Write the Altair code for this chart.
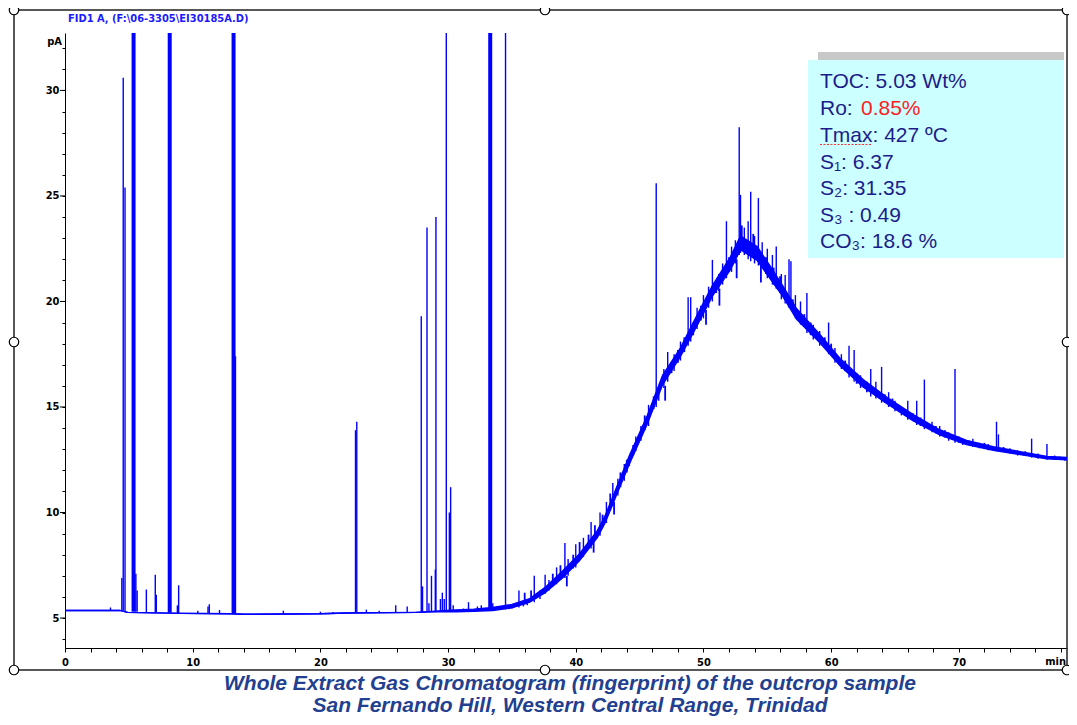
import altair as alt
import pandas as pd

# ---------------- data ----------------
# baseline + unresolved hump (lower / upper edge of the noisy band), pA vs min
trace_t = [0.0, 4.3, 4.9, 9.2, 13.0, 14.0, 20.0, 22.0, 27.5, 29.3, 30.6, 32.0, 33.5, 35.0,
           36.4, 37.6, 39.0, 40.3, 41.7, 42.3, 42.9, 44.2, 45.6, 46.8, 48.2, 49.5, 50.7,
           52.1, 52.9, 54.2, 55.2, 56.2, 57.3, 59.1, 60.7, 62.5, 64.4, 66.4, 68.5, 70.6,
           72.7, 74.8, 76.9, 79.1]
trace_lo = [5.36, 5.36, 5.27, 5.22, 5.20, 5.18, 5.20, 5.24, 5.27, 5.30, 5.30, 5.32, 5.36, 5.48,
            5.75, 6.2, 6.92, 7.72, 8.82, 9.52, 10.4, 12.3, 14.2, 16.05, 17.4, 18.85, 20.25,
            21.5, 22.45, 21.95, 21.1, 20.25, 19.15, 18.05, 16.95, 15.95, 15.15, 14.35, 13.68, 13.22,
            12.95, 12.74, 12.54, 12.48]
trace_hi = [5.36, 5.36, 5.27, 5.22, 5.20, 5.18, 5.20, 5.24, 5.27, 5.34, 5.38, 5.42, 5.50, 5.64,
            5.92, 6.45, 7.25, 8.05, 9.15, 9.85, 10.75, 12.7, 14.6, 16.5, 17.8, 19.35, 20.75,
            22.1, 23.1, 22.6, 21.7, 20.75, 19.65, 18.45, 17.3, 16.3, 15.45, 14.65, 13.92, 13.42,
            13.12, 12.88, 12.66, 12.58]

# resolved peaks: retention time, foot level, apex (pA)
peak_t = [3.56, 4.45, 4.56, 4.70, 5.55, 5.65, 6.37, 7.07, 7.15, 8.8, 8.9, 10.4, 11.2, 11.3,
          12.1, 13.35, 17.1, 20.0, 21.0, 22.75, 22.85, 23.6, 24.6, 25.9, 26.8, 27.9, 28.0,
          28.35, 28.5, 28.7, 29.0, 29.05, 29.4, 29.55, 29.7, 29.86, 30.1, 30.2, 30.4, 31.2,
          31.6, 32.3, 32.6, 33.5, 34.1, 34.5, 34.8, 35.0, 35.55, 35.9, 36.2, 36.75, 37.2,
          37.6, 37.9,
          38.5, 39.15, 39.4, 40.0, 40.6, 41.2, 41.9, 42.4, 42.9, 43.3, 43.8, 44.2, 44.7,
          45.1, 45.7, 46.3, 46.5, 46.9, 47.2, 47.7, 48.2, 48.8, 49.0, 49.5, 50.0, 50.4,
          50.7, 51.2, 51.5, 51.8, 52.2, 52.5, 52.8, 52.9, 53.2, 53.5, 53.7, 54.0, 54.3,
          54.6, 55.0, 55.4, 55.7, 56.1, 56.4, 56.7, 56.85, 57.2, 57.6, 58.1, 58.6, 59.1,
          59.8, 60.3, 60.8, 61.4, 61.8, 62.3, 63.1, 63.5, 63.95, 64.5, 65.0, 65.5, 66.0,
          66.7, 67.3, 67.9, 68.5, 69.2, 69.7, 70.3, 71.1, 71.6, 72.3, 72.95, 73.1, 74.0,
          74.6, 75.7, 76.2, 76.9, 77.5, 78.3]
peak_base = [5.36, 5.36, 5.36, 5.30, 5.30, 5.30, 5.27, 5.27, 5.27, 5.22, 5.22, 5.22, 5.22, 5.22,
             5.20, 5.20, 5.18, 5.20, 5.20, 5.24, 5.24, 5.25, 5.25, 5.26, 5.27, 5.27, 5.27,
             5.28, 5.28, 5.30, 5.30, 5.30, 5.35, 5.35, 5.35, 5.35, 5.35, 5.35, 5.30, 5.30,
             5.32, 5.32, 5.35, 5.38, 5.40, 5.40, 5.42, 5.45, 5.50, 5.55, 5.60, 5.75, 5.90,
             6.15, 6.30,
             6.6, 6.9, 7.0, 7.4, 7.9, 8.3, 8.9, 9.5, 10.3, 10.8, 11.5, 12.2, 12.9,
             13.4, 14.1, 15.0, 15.3, 15.9, 16.2, 16.7, 17.2, 17.9, 18.1, 18.7, 19.2, 19.7,
             20.0, 20.5, 20.8, 21.1, 21.4, 21.8, 22.2, 22.3, 22.2, 22.0, 21.9, 21.8, 21.7,
             21.6, 21.1, 20.8, 20.6, 20.1, 19.9, 19.7, 19.6, 19.2, 18.9, 18.5, 18.2, 17.9,
             17.5, 17.1, 16.8, 16.4, 16.2, 15.9, 15.5, 15.4, 15.2, 15.0, 14.8, 14.6, 14.4,
             14.15, 13.95, 13.8, 13.6, 13.4, 13.3, 13.2, 13.1, 13.05, 12.95, 12.9, 12.9, 12.8,
             12.7, 12.6, 12.55, 12.5, 12.5, 12.45]
peak_top = [5.5, 6.9, 30.6, 25.4, 7.1, 6.3, 6.35, 7.05, 6.1, 5.6, 6.55, 5.35, 5.55, 5.65,
            5.38, 17.4, 5.35, 5.3, 5.28, 13.9, 14.3, 5.4, 5.35, 5.6, 5.55, 19.3, 6.5,
            23.5, 5.7, 7.0, 7.3, 24.0, 5.9, 6.2, 5.9, 40.0, 10.0, 11.2, 5.6, 5.45,
            5.75, 5.55, 5.6, 5.7, 5.55, 40.0, 5.6, 5.65, 6.3, 5.75, 5.9, 7.0, 6.3,
            7.05, 6.8,
            7.4, 8.55, 7.8, 8.5, 8.8, 9.55, 10.0, 10.5, 11.4, 11.6, 12.3, 12.6, 13.6,
            14.1, 15.1, 25.6, 15.96, 16.8, 17.6, 17.5, 18.1, 20.2, 20.2, 19.7, 20.3, 20.7,
            21.97, 21.3, 21.8, 23.8, 22.6, 22.9, 28.25, 25.05, 23.5, 23.8, 25.2, 23.1, 24.9,
            22.8, 22.5, 22.2, 22.6, 21.3, 21.25, 22.0, 21.9, 20.3, 20.0, 20.4, 18.9, 18.6,
            19.0, 17.8, 17.5, 17.9, 17.7, 16.5, 16.8, 16.2, 16.9, 15.7, 15.3, 15.0, 15.3,
            15.3, 16.3, 14.3, 14.1, 13.8, 16.8, 13.5, 13.5, 13.3, 13.25, 14.3, 13.7, 13.05,
            12.95, 13.5, 12.8, 13.25, 12.7, 12.6]

# short noise excursions on the hump (start level, end level; end < start = dip)
hair_t = [36.0, 36.5, 38.2, 38.8, 39.3, 39.8, 40.3, 41.0, 41.4, 41.5, 42.1, 42.7, 43.0,
          43.5, 44.0, 44.5, 45.4, 46.1, 47.0, 47.5, 48.0, 48.5, 49.2, 49.8, 50.2, 51.0,
          51.25, 52.0, 52.6, 53.0, 53.9, 54.5, 54.9, 55.5, 56.0, 57.0, 57.9, 58.4, 59.5,
          60.0, 61.1, 62.0, 62.8, 64.2, 64.8, 65.8, 66.4, 67.0, 68.2, 68.9, 70.0, 70.8,
          72.0, 73.5, 75.2, 77.9]
hair_from = [5.65, 5.8, 6.5, 6.8, 7.0, 7.35, 7.8, 8.3, 8.7, 8.7, 9.3, 10.1, 10.5,
             11.2, 11.9, 12.7, 13.9, 14.9, 16.0, 16.6, 17.1, 17.6, 18.4, 19.1, 19.6, 20.4,
             20.6, 21.4, 22.0, 22.4, 22.1, 21.8, 21.3, 20.8, 20.4, 19.5, 18.8, 18.4, 17.8,
             17.5, 16.7, 16.1, 15.7, 15.2, 15.0, 14.6, 14.35, 14.1, 13.75, 13.55, 13.3, 13.2,
             13.05, 12.9, 12.7, 12.5]
hair_to = [6.2, 6.3, 7.1, 7.5, 6.5, 8.0, 8.6, 8.95, 8.1, 9.4, 9.9, 10.9, 9.9,
           11.9, 12.5, 13.2, 14.6, 15.5, 15.3, 17.1, 17.7, 18.3, 19.0, 19.8, 18.9, 21.0,
           19.8, 22.1, 21.1, 23.6, 23.2, 20.9, 22.1, 21.6, 21.2, 20.1, 19.4, 19.0, 18.3,
           18.0, 17.2, 16.6, 16.2, 15.6, 15.4, 14.9, 14.7, 14.5, 14.1, 13.9, 13.6, 13.4,
           13.3, 13.1, 12.9, 12.65]

# major (broad, off-scale) peaks
big_t = [5.37, 8.2, 13.2, 33.3]
big_base = [5.30, 5.25, 5.20, 5.40]
big_top = [40.0, 40.0, 40.0, 40.0]

x_tick_values = list(range(0, 79, 2))
y_tick_values = list(range(4, 33))
y_major_values = [5, 10, 15, 20, 25, 30]

info_lines = ["TOC: 5.03 Wt%", "Ro: ", "Tmax: 427 ºC", "S\u2081: 6.37", "S\u2082: 31.35",
              "S\u2083 : 0.49", "CO\u2083: 18.6 %"]
ro_value = "0.85%"
header = r"FID1 A, (F:\06-3305\EI30185A.D)"
caption1 = "Whole Extract Gas Chromatogram (fingerprint) of  the outcrop sample"
caption2 = "San Fernando Hill, Western Central Range, Trinidad"

# ---------------- chart ----------------
W, H = 1002, 615
BLUE = "#0000ff"
NARROW = "Liberation Sans Narrow, DejaVu Sans Condensed, Arial Narrow, sans-serif"
SANS = "Liberation Sans, Arial, sans-serif"

xs = alt.Scale(domain=[0, 78.47], nice=False, zero=False)
ys = alt.Scale(domain=[3.58, 32.72], nice=False, zero=False)

xaxis = alt.Axis(values=x_tick_values, labelExpr="datum.value % 10 == 0 ? datum.label : ''",
                 tickSize=4, labelPadding=4, title=None, grid=False, labelOverlap=False,
                 labelFlush=False, domainColor="black", tickColor="black", labelColor="black",
                 labelFont=NARROW, labelFontSize=11, labelFontWeight="bold")
yaxis = alt.Axis(values=y_tick_values, labelExpr="datum.value % 5 == 0 ? datum.label : ''",
                 tickSize=3, labelPadding=3, title=None, grid=False, labelOverlap=False,
                 domainColor="black", tickColor="black", labelColor="black",
                 labelFont=NARROW, labelFontSize=11, labelFontWeight="bold")


def X(f):
    return alt.X(f, scale=xs, axis=xaxis)


def Y(f):
    return alt.Y(f, scale=ys, axis=yaxis)


trace_df = pd.DataFrame({"t": trace_t, "lo": trace_lo, "hi": trace_hi})
peak_df = pd.DataFrame({"t": peak_t, "base": peak_base, "top": peak_top})
hair_df = pd.DataFrame({"t": hair_t, "base": hair_from, "top": hair_to})
big_df = pd.DataFrame({"t": big_t, "base": big_base, "top": big_top})
major_df = pd.DataFrame({"v": y_major_values})
one = pd.DataFrame({"k": [0]})

band = alt.Chart(trace_df).mark_area(color=BLUE, clip=True).encode(
    x=X("t:Q"), y=Y("lo:Q"), y2="hi:Q")
lo_line = alt.Chart(trace_df).mark_line(color=BLUE, strokeWidth=1.4, clip=True).encode(
    x=X("t:Q"), y=Y("lo:Q"))
hi_line = alt.Chart(trace_df).mark_line(color=BLUE, strokeWidth=1.4, clip=True).encode(
    x=X("t:Q"), y=Y("hi:Q"))
peaks = alt.Chart(peak_df).mark_rule(color=BLUE, strokeWidth=1.4, clip=True).encode(
    x=X("t:Q"), y=Y("base:Q"), y2="top:Q")
hairs = alt.Chart(hair_df).mark_rule(color=BLUE, strokeWidth=1.8, clip=True).encode(
    x=X("t:Q"), y=Y("base:Q"), y2="top:Q")
bigs = alt.Chart(big_df).mark_rule(color=BLUE, strokeWidth=4, clip=True).encode(
    x=X("t:Q"), y=Y("base:Q"), y2="top:Q")
ymajor = alt.Chart(major_df).mark_rule(color="black", strokeWidth=1).encode(
    y=Y("v:Q"), x=alt.value(-5), x2=alt.value(0))


def rect(x1, x2, y1, y2, **kw):
    return alt.Chart(one).mark_rect(**kw).encode(
        x=alt.value(x1), x2=alt.value(x2), y=alt.value(y1), y2=alt.value(y2))


def txt(s, x, y, size=11, color="black", font=SANS, weight="normal", style="normal",
        align="left", baseline="alphabetic", opacity=1):
    return alt.Chart(one).mark_text(text=s, fontSize=size, color=color, font=font,
                                    fontWeight=weight, fontStyle=style, align=align,
                                    baseline=baseline, opacity=opacity).encode(
        x=alt.value(x), y=alt.value(y))


RIGHT = 1002  # frame right edge (plot coords)
frame = rect(-51, RIGHT, -23, 637, fillOpacity=0, stroke="#222222", strokeWidth=1.5)
box_bar = rect(753, RIGHT - 3, 19, 27, fill="#c8c8c8")
box = rect(743, RIGHT - 3, 27, 225, fill="#ccffff")

NAVY = "#1c1c8a"
info_y = [55.3, 82, 109, 135.5, 162, 189, 214.5]
layers = [frame, band, lo_line, hi_line, hairs, peaks, bigs, ymajor, box_bar, box]
for s, yy in zip(info_lines, info_y):
    layers.append(txt(s, 755, yy, size=21, color=NAVY))
layers.append(txt(ro_value, 796, info_y[1], size=21, color="#ff2020"))
layers.append(alt.Chart(one).mark_rule(color="#ff3030", strokeWidth=1, strokeDash=[2, 1.5]).encode(
    x=alt.value(755), x2=alt.value(807), y=alt.value(111.5)))

layers.append(txt(header, 3, -11, size=11, color="#1a1aff", font=NARROW, weight="bold"))
layers.append(txt("pA", -3, 9, size=11, font=NARROW, weight="bold", align="right",
                  baseline="middle"))
layers.append(txt("min", RIGHT - 1, 629, size=11, font=NARROW, weight="bold",
                  align="right", baseline="middle"))

CAP = "#233f8f"
for s, yy in [(caption1, 656.5), (caption2, 679)]:
    layers.append(txt(s, 505, yy, size=21, color=CAP, weight="bold", style="italic",
                      align="center"))

for hx, hy in [(-51, -23), (480, -23), (RIGHT, -23), (-51, 309), (RIGHT, 309),
               (-51, 637), (480, 637), (RIGHT, 637)]:
    layers.append(alt.Chart(one).mark_point(shape="circle", filled=True, fill="white",
                                            stroke="black", strokeWidth=1.2, size=90,
                                            opacity=1).encode(
        x=alt.value(hx), y=alt.value(hy)))

chart = alt.layer(*layers).properties(
    width=W, height=H, autosize="none",
    padding={"left": 57, "top": 25, "right": 2, "bottom": 69},
).configure_view(stroke=None)

chart.save("out.html", embed_options={"renderer": "svg", "actions": False})
